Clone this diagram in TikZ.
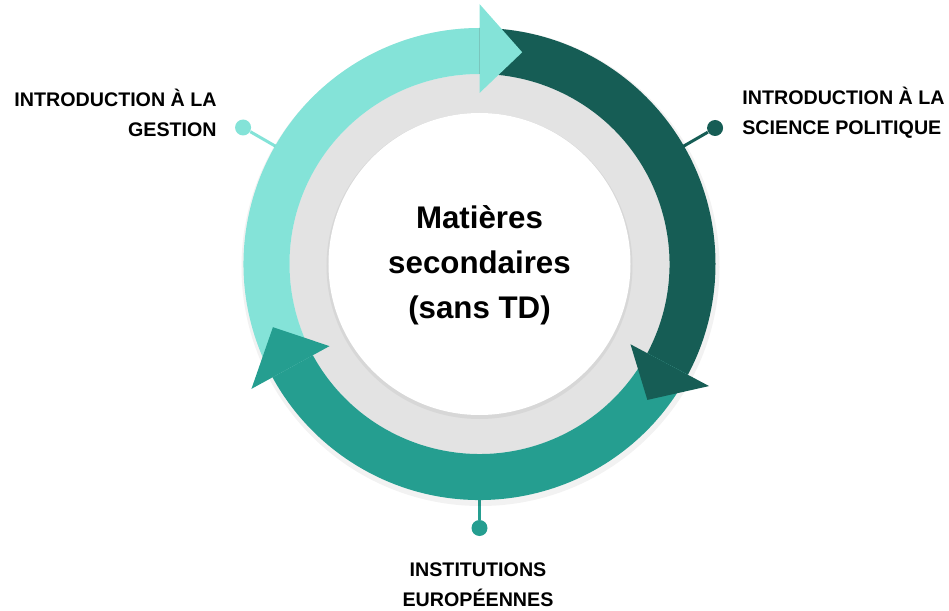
\documentclass[tikz,border=0pt]{standalone}
\usepackage{fontspec}
\setmainfont{Liberation Sans}
\usetikzlibrary{positioning}

\definecolor{lightteal}{HTML}{84E3D8}
\definecolor{darkteal}{HTML}{165D55}
\definecolor{midteal}{HTML}{259E90}
\definecolor{ringgray}{HTML}{E3E3E3}

% body of a ring arrow: colour, start angle, end angle
\newcommand{\bandbody}[3]{%
  \fill[#1] (#2:236) arc[start angle=#2, end angle=#3, radius=236]
    -- (#3:190) arc[start angle=#3, end angle=#2, radius=190] -- cycle;}
% head of a ring arrow: colour, base angle, tip angle
\newcommand{\bandhead}[3]{%
  \fill[#1] (#2:260) -- (#3:216) -- (#2:171) -- cycle;}

\begin{document}
\begin{tikzpicture}[x=0.02cm, y=0.02cm]
    \tikzstyle{topic} = [font=\bfseries\fontsize{11.2}{17}\selectfont,
    inner sep=0pt]
    \tikzstyle{hub} = [font=\bfseries\fontsize{17.8}{25.6}\selectfont,
    align=center, inner sep=0pt]
    \tikzstyle{dot} = [circle, inner sep=0pt, minimum size=0.32cm]
    \tikzstyle{stem} = [line width=1.7pt]
    \useasboundingbox (-479.5,-347) rectangle (469.5,264);
    % connectors
    \coordinate (gestion-end) at (150:228);
    \coordinate (science-end) at (30:228);
    \coordinate (europe-end) at (270:228);
    \node [dot, fill=lightteal] (gestion-dot) at (150:273) {};
    \node [dot, fill=darkteal] (science-dot) at (30:272) {};
    \node [dot, fill=midteal] (europe-dot) at (270:264) {};
    \draw [stem, lightteal] (gestion-end) -- (gestion-dot);
    \draw [stem, darkteal] (science-end) -- (science-dot);
    \draw [stem, midteal] (europe-end) -- (europe-dot);
    % rings
    \fill [black, opacity=0.05] (1,-3) circle (239);
    \fill [ringgray] (0,0) circle (190);
    \fill [black, opacity=0.05] (0,-2) circle (153);
    \fill [white] (0,0) circle (151);
    % arrows
    \bandbody{lightteal}{208.7}{90}
    \bandbody{darkteal}{90}{-28}
    \bandbody{midteal}{-28}{-151.3}
    \bandhead{lightteal}{90}{78.6}
    \bandhead{darkteal}{-28}{-39}
    \bandhead{midteal}{-151.3}{-163}
    % texts
    \node [hub] (matieres) at (0,-1) {Matières\\secondaires\\(sans TD)};
    \node [topic, align=right, anchor=east] (gestion) at (-262.5,151)
    {INTRODUCTION À LA\\GESTION};
    \node [topic, align=left, anchor=west] (science) at (262.5,151)
    {INTRODUCTION À LA\\SCIENCE POLITIQUE};
    \node [topic, align=center] (europe) at (-1.5,-321)
    {INSTITUTIONS\\EUROPÉENNES};
\end{tikzpicture}
\end{document}
